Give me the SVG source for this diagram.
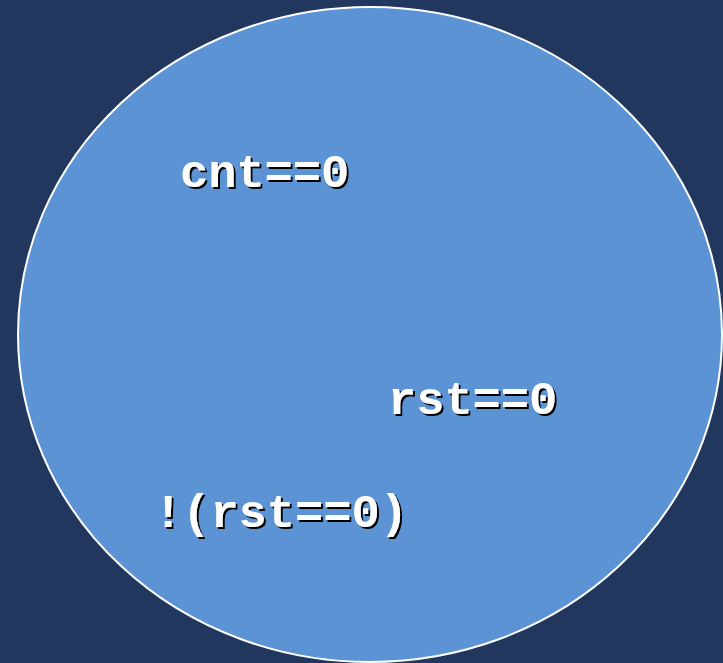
<svg xmlns="http://www.w3.org/2000/svg" width="723" height="663" viewBox="0 0 723 663">
<defs>
<filter id="shadow" x="-10%" y="-20%" width="130%" height="150%">
<feOffset in="SourceAlpha" dx="2" dy="2" result="o"/>
<feMerge><feMergeNode in="o"/><feMergeNode in="SourceGraphic"/></feMerge>
</filter>
</defs>
<style>
.t{font-family:"Liberation Mono","Courier New",monospace;font-weight:bold;font-size:47px;fill:#ffffff;filter:url(#shadow)}
</style>
<rect x="0" y="0" width="723" height="663" fill="#21375E"/>
<g id="state">
<ellipse cx="370" cy="334.5" rx="352" ry="327.5" fill="#5B93D5" stroke="#ffffff" stroke-width="2"/>
</g>
<g id="labels">
<text class="t" x="180" y="187">cnt==0</text>
<text class="t" x="388" y="414">rst==0</text>
<text class="t" x="154" y="527">!(rst==0)</text>
</g>
</svg>
